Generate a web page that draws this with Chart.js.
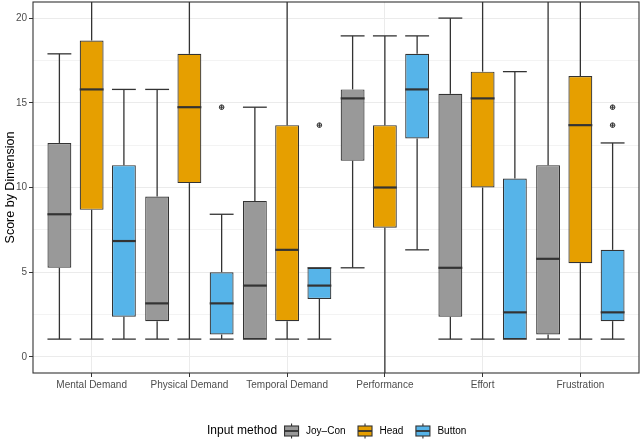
<!DOCTYPE html>
<html>
<head>
<meta charset="utf-8">
<script src="https://cdn.jsdelivr.net/npm/chart.js@4.4.1/dist/chart.umd.min.js"></script>
<style>
  html, body { margin: 0; padding: 0; background: #fff; }
  #wrap { width: 640px; height: 440px; }
</style>
</head>
<body>
<div id="wrap"><canvas id="chart"></canvas></div>
<script>
// Categories and groups
const dimensions = ['Mental Demand', 'Physical Demand', 'Temporal Demand', 'Performance', 'Effort', 'Frustration'];
const methods = ['Joy\u2013Con', 'Head', 'Button'];
const colors = ['#999999', '#E69F00', '#56B4E9'];

// Joy-Con box stats
const joyLow    = [1.05, 1.05, 1.05, 5.26, 1.05, 1.05];
const joyQ1     = [5.26, 2.11, 1.05, 11.58, 2.37, 1.32];
const joyMedian = [8.42, 3.16, 4.21, 15.26, 5.26, 5.79];
const joyQ3     = [12.63, 9.47, 9.21, 15.79, 15.53, 11.32];
const joyHigh   = [17.89, 15.79, 14.74, 18.95, 20.0, 21.05];
const joyOut    = [[], [], [], [], [], []];

// Head box stats
const headLow    = [1.05, 1.05, 1.05, -1.05, 1.05, 1.05];
const headQ1     = [8.68, 10.26, 2.11, 7.63, 10.0, 5.53];
const headMedian = [15.79, 14.74, 6.32, 10.0, 15.26, 13.68];
const headQ3     = [18.68, 17.89, 13.68, 13.68, 16.84, 16.58];
const headHigh   = [21.05, 21.05, 21.05, 18.95, 21.05, 21.05];
const headOut    = [[], [], [], [], [], []];

// Button box stats
const buttonLow    = [1.05, 1.05, 1.05, 6.32, 1.05, 1.05];
const buttonQ1     = [2.37, 1.32, 3.42, 12.89, 1.05, 2.11];
const buttonMedian = [6.84, 3.16, 4.21, 15.79, 2.63, 2.63];
const buttonQ3     = [11.32, 5.0, 5.26, 17.89, 10.53, 6.32];
const buttonHigh   = [15.79, 8.42, 5.26, 18.95, 16.84, 12.63];
const buttonOut    = [[], [14.74], [13.68], [], [], [14.74, 13.68]];

// Axis ticks
const yLabelTicks = [0, 5, 10, 15, 20];
const yMinorTicks = [2.5, 7.5, 12.5, 17.5];

const makeSet = (label, color, low, q1, med, q3, high, out) => ({
    label,
    data: q1.map((v, i) => [v, q3[i]]),
    low, median: med, high, outliers: out,
    backgroundColor: color,
    borderColor: '#333333',
    borderWidth: 1.2,
    borderSkipped: false,
    barPercentage: 0.74,
    categoryPercentage: 0.99
});

const datasets = [
    makeSet(methods[0], colors[0], joyLow, joyQ1, joyMedian, joyQ3, joyHigh, joyOut),
    makeSet(methods[1], colors[1], headLow, headQ1, headMedian, headQ3, headHigh, headOut),
    makeSet(methods[2], colors[2], buttonLow, buttonQ1, buttonMedian, buttonQ3, buttonHigh, buttonOut)
];

const FONT = '"Liberation Sans", Arial, sans-serif';

const line = (ctx, x1, y1, x2, y2) => {
    ctx.beginPath();
    ctx.moveTo(x1, y1);
    ctx.lineTo(x2, y2);
    ctx.stroke();
};

// Whiskers, medians, outliers, panel border and legend
const boxExtras = {
    id: 'boxExtras',
    afterDatasetsDraw(chart) {
        const { ctx, chartArea: a } = chart;
        const y = chart.scales.y;
        ctx.save();
        ctx.beginPath();
        ctx.rect(a.left, a.top, a.right - a.left, a.bottom - a.top);
        ctx.clip();
        chart.data.datasets.forEach((ds, di) => {
            chart.getDatasetMeta(di).data.forEach((bar, i) => {
                const x = bar.x;
                const half = bar.width / 2;
                const pLow = y.getPixelForValue(ds.low[i]);
                const pHigh = y.getPixelForValue(ds.high[i]);
                const pQ1 = y.getPixelForValue(ds.data[i][0]);
                const pQ3 = y.getPixelForValue(ds.data[i][1]);
                const pMed = y.getPixelForValue(ds.median[i]);
                ctx.strokeStyle = '#333333';
                ctx.lineWidth = 1.3;
                if (pHigh < pQ3 - 0.5) line(ctx, x, pQ3, x, pHigh);
                if (pLow > pQ1 + 0.5) line(ctx, x, pQ1, x, pLow);
                line(ctx, x - half, pHigh, x + half, pHigh);
                line(ctx, x - half, pLow, x + half, pLow);
                ctx.lineWidth = 2.2;
                line(ctx, x - half, pMed, x + half, pMed);
                ctx.lineWidth = 1;
                ds.outliers[i].forEach(v => {
                    const py = y.getPixelForValue(v);
                    ctx.beginPath();
                    ctx.arc(x, py, 2.3, 0, Math.PI * 2);
                    ctx.stroke();
                    line(ctx, x - 2.3, py, x + 2.3, py);
                    line(ctx, x, py - 2.3, x, py + 2.3);
                });
            });
        });
        ctx.restore();

        ctx.save();
        ctx.strokeStyle = '#333333';
        ctx.lineWidth = 1.1;
        ctx.strokeRect(a.left, a.top, a.right - a.left, a.bottom - a.top);
        ctx.restore();
    },
    afterDraw(chart) {
        const { ctx } = chart;
        const cy = 431;
        ctx.save();
        ctx.textBaseline = 'middle';
        ctx.fillStyle = '#000';
        const title = 'Input method';
        ctx.font = '12px ' + FONT;
        const iconW = 15, gapIcon = 7, gapItem = 12;
        let x = 207;
        ctx.fillText(title, x, cy);
        x += ctx.measureText(title).width + 7;
        methods.forEach((m, i) => {
            ctx.fillStyle = colors[i];
            ctx.fillRect(x + 0.5, cy - 5, iconW - 1, 10);
            ctx.strokeStyle = '#333333';
            ctx.lineWidth = 1.1;
            ctx.strokeRect(x + 0.5, cy - 5, iconW - 1, 10);
            ctx.lineWidth = 1.8;
            line(ctx, x + 0.5, cy, x + iconW - 0.5, cy);
            ctx.lineWidth = 1.1;
            line(ctx, x + iconW / 2, cy - 7.5, x + iconW / 2, cy - 5);
            line(ctx, x + iconW / 2, cy + 5, x + iconW / 2, cy + 7.5);
            x += iconW + gapIcon;
            ctx.fillStyle = '#000';
            ctx.font = '10px ' + FONT;
            ctx.fillText(m, x, cy);
            x += ctx.measureText(m).width + gapItem;
        });
        ctx.restore();
    }
};

const initChart = () => {
    const ctx = document.getElementById('chart');
    new Chart(ctx, {
        type: 'bar',
        data: { labels: dimensions, datasets },
        options: {
            responsive: true,
            maintainAspectRatio: false,
            animation: false,
            layout: { padding: { top: 2, right: 1, bottom: 45, left: 0 } },
            plugins: {
                legend: { display: false },
                tooltip: { enabled: false }
            },
            scales: {
                x: {
                    offset: true,
                    // ggplot-style discrete expansion: 0.6 of a category on each side
                    afterBuildTicks: s => {
                        s._startValue = -0.6;
                        s._valueRange = dimensions.length + 0.2;
                    },
                    afterFit: s => { s.height = 22; },
                    border: { display: false },
                    grid: {
                        offset: false,
                        color: '#ebebeb',
                        lineWidth: 1,
                        tickColor: '#333333',
                        tickLength: 4,
                        drawTicks: true
                    },
                    ticks: {
                        color: '#4d4d4d',
                        font: { family: FONT, size: 10 },
                        padding: 2,
                        maxRotation: 0,
                        autoSkip: false
                    }
                },
                y: {
                    min: -0.95,
                    max: 20.95,
                    afterFit: s => { s.width = 33; s.paddingTop = 0; s.paddingBottom = 0; },
                    afterBuildTicks: s => {
                        s.ticks = yLabelTicks.concat(yMinorTicks)
                            .sort((p, q) => p - q)
                            .map(v => ({ value: v }));
                    },
                    border: { display: false },
                    grid: {
                        color: '#ebebeb',
                        lineWidth: c => (yLabelTicks.includes(c.tick.value) ? 1 : 0.6),
                        tickColor: c => (yLabelTicks.includes(c.tick.value) ? '#333333' : 'rgba(0,0,0,0)'),
                        tickLength: 4
                    },
                    ticks: {
                        color: '#4d4d4d',
                        font: { family: FONT, size: 10 },
                        padding: 2,
                        callback: v => (yLabelTicks.includes(v) ? String(v) : '')
                    },
                    title: {
                        display: true,
                        text: 'Score by Dimension',
                        color: '#000',
                        font: { family: FONT, size: 12.5 },
                        padding: { top: 3, bottom: 0 }
                    }
                }
            }
        },
        plugins: [boxExtras]
    });
};

initChart();
</script>
</body>
</html>
